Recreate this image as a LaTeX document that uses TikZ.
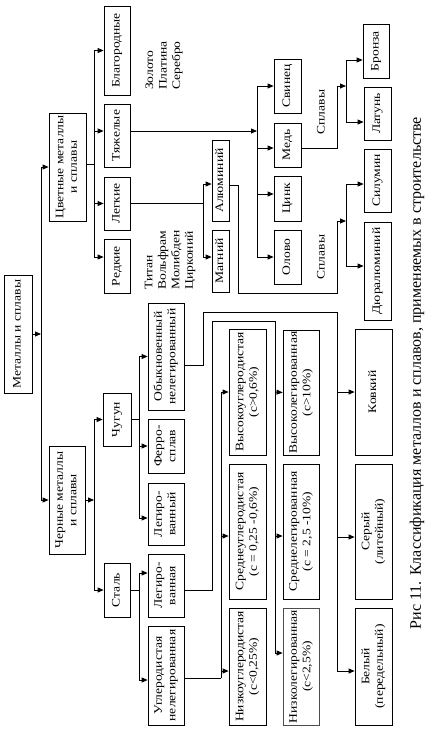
\documentclass[tikz,border=0pt]{standalone}
\usepackage{fontspec}
\usepackage{graphicx}
\setmainfont{Liberation Serif}[FakeStretch=1.18]
\newfontfamily\capfont{Liberation Serif}
\usetikzlibrary{arrows.meta}
\newcommand\R[1]{\rotatebox{90}{\begin{tabular}{@{}c@{}}#1\end{tabular}}}
\newcommand\RL[1]{\rotatebox{90}{\begin{tabular}{@{}l@{}}#1\end{tabular}}}
\begin{document}
\begin{tikzpicture}[x=1pt,y=-1pt,line width=0.8pt,
  font=\fontsize{11.5}{13.5}\selectfont,
  box/.style 2 args={draw, minimum width=#1pt, minimum height=#2pt, inner sep=0pt},
  arr/.style={-{Triangle[length=6pt,width=5pt]}},
  lbl/.style={inner sep=0pt}]
\useasboundingbox (0,0) rectangle (434,732);
% level 0-1
\node[box={28}{118}] (met) at (18,334) {\R{Металлы и сплавы}};
\node[box={37}{108}] (cvet) at (67.5,167) {\R{Цветные металлы\\и сплавы}};
\node[box={36}{108}] (cher) at (67,500) {\R{Черные металлы\\и сплавы}};
% non-ferrous groups
\node[box={26}{89}] (blag) at (117,50.5) {\R{Благородные}};
\node[box={26}{63}] (tyazh) at (117,135.5) {\R{Тяжелые}};
\node[box={26}{53}] (legk) at (117,203.5) {\R{Легкие}};
\node[box={26}{54}] (redk) at (117,266) {\R{Редкие}};
% ferrous groups
\node[box={28}{53}] (chug) at (117,419.5) {\R{Чугун}};
\node[box={26}{54}] (stal) at (117,590) {\R{Сталь}};
\node[box={36}{107}] (obyk) at (166,356.5) {\R{Обыкновенный\\нелегированный}};
\node[box={36}{54}] (ferro) at (166,446) {\R{Ферро-\\сплав}};
\node[box={36}{62}] (legch) at (166,514) {\R{Легиро-\\ванный}};
\node[box={36}{63}] (legst) at (166,585.5) {\R{Легиро-\\ванная}};
\node[box={36}{99}] (uglst) at (166,675.5) {\R{Углеродистая\\нелегированная}};
% metals
\node[box={17}{81}] (alum) at (220.5,180.5) {\R{Алюминий}};
\node[box={17}{62}] (magn) at (220.5,261) {\R{Магний}};
\node[box={27}{54}] (svin) at (287.5,86) {\R{Свинец}};
\node[box={27}{44}] (med) at (287.5,145) {\R{Медь}};
\node[box={27}{45}] (cink) at (287.5,198.5) {\R{Цинк}};
\node[box={27}{54}] (olovo) at (287.5,257) {\R{Олово}};
\node[box={26}{54}] (bronz) at (376,51) {\R{Бронза}};
\node[box={27}{53}] (latun) at (377.5,113.5) {\R{Латунь}};
\node[box={27}{63}] (silum) at (377.5,180.5) {\R{Силумин}};
\node[box={27}{98}] (dural) at (377.5,271) {\R{Дюралюминий}};
% steel / iron subtypes
\node[box={37}{126}] (vysu) at (247.5,392) {\R{Высокоуглеродистая\\(c>0,6\%)}};
\node[box={37}{135}] (sredu) at (247.5,531.5) {\R{Среднеуглеродистая\\(c = 0,25 -0,6\%)}};
\node[box={37}{117}] (nizu) at (247.5,666.5) {\R{Низкоуглеродистая\\(c<0,25\%)}};
\node[box={36}{125}] (vysl) at (301,392.5) {\R{Высоколегированная\\(c>10\%)}};
\node[box={36}{135}] (sredl) at (301,531.5) {\R{Среднелегированная\\(c = 2,5 -10\%)}};
\node[box={36}{117},draw=black!70] (nizl) at (301,666.5) {\R{Низколегированная\\(c<2,5\%)}};
\node[box={37}{126}] (kovk) at (373.5,392) {\R{Ковкий}};
\node[box={37}{135}] (sery) at (373.5,531.5) {\R{Серый\\(литейный)}};
\node[box={37}{117}] (bely) at (373.5,666.5) {\R{Белый\\(передельный)}};
% free labels
\node[lbl] (zol) at (164,65.5) {\RL{Золото\\Платина\\Серебро}};
\node[lbl] (tit) at (170,260) {\RL{Титан\\Вольфрам\\Молибден\\Цирконий}};
\node[lbl] (spl1) at (322,112) {\R{Сплавы}};
\node[lbl] (spl2) at (322,257) {\R{Сплавы}};
\node[lbl,font=\capfont\fontsize{16}{19}\selectfont] (cap) at (417,373) {\R{Рис 11. Классификация металлов и сплавов, применяемых в строительстве}};
% junctions
\coordinate (jA) at (41,334);
\coordinate (jB) at (94,164);
\coordinate (jC) at (94,500);
\coordinate (jD) at (139,419.5);
\coordinate (jE) at (139,590);
\coordinate (jF) at (203,203.5);
\coordinate (jG) at (257,131);
\coordinate (jH) at (346,86);
\coordinate (jI) at (346,221);
\coordinate (jJ) at (337,392);
\coordinate (jK) at (275,392);
\coordinate (jL) at (221,678);
% connectors
\draw[arr] (met.east) -- (jA);
\draw[arr] (jA) |- (cvet.west);
\draw[arr] (jA) |- (cher.west);
\draw (cvet.east |- jB) -- (jB);
\draw[arr] (jB) |- (blag.west);
\draw[arr] (jB) |- (tyazh.west |- 0,131);
\draw[arr] (jB) |- (legk.west);
\draw[arr] (jB) |- (redk.west |- 0,257);
\draw[arr] (cher.east) -- (jC);
\draw[arr] (jC) |- (chug.west);
\draw[arr] (jC) |- (stal.west);
\draw (chug.east) -- (jD);
\draw[arr] (jD) |- (obyk.west);
\draw[arr] (jD) |- (ferro.west);
\draw[arr] (jD) |- (legch.west |- 0,518);
\draw (stal.east) -- (jE);
\draw[arr] (jE) |- (legst.west |- 0,573);
\draw[arr] (jE) |- (uglst.west |- 0,680);
\draw (legk.east) -- (jF);
\draw[arr] (jF) |- (alum.west |- 0,184);
\draw[arr] (jF) |- (magn.west |- 0,257);
\draw[arr] (tyazh.east |- jG) -- (jG);
\draw[arr] (jG) |- (svin.west);
\draw[arr] (jG) |- (med.west |- 0,148);
\draw[arr] (jG) |- (cink.west |- 0,194);
\draw[arr] (jG) |- (olovo.west);
\draw[arr] (med.east |- 0,148) -| (337,86) -- (jH);
\draw[arr] (jH) |- (bronz.west |- 0,60);
\draw[arr] (jH) |- (latun.west |- 0,122);
\draw[arr] (alum.east |- 0,185) -- (238,185) -- (238,293) -- (337,293) -- (337,221) -- (jI);
\draw[arr] (jI) |- (silum.west |- 0,184);
\draw[arr] (jI) |- (dural.west |- 0,266);
\draw (obyk.east |- 0,365) -- (203,365) -- (203,312) -- (337,312) -- (jJ);
\draw[arr] (jJ) -- (kovk.west);
\draw[arr] (jJ) |- (sery.west |- 0,537);
\draw[arr] (jJ) |- (bely.west |- 0,671);
\draw (legst.east |- 0,590) -- (212,590) -- (212,321) -- (275,321) -- (jK);
\draw[arr] (jK) -- (vysl.west);
\draw[arr] (jK) |- (sredl.west |- 0,536);
\draw[arr] (jK) |- (nizl.west |- 0,653);
\draw (uglst.east |- 0,678) -- (jL);
\draw[arr] (jL) |- (vysu.west);
\draw[arr] (jL) |- (sredu.west |- 0,536);
\draw[arr] (jL) |- (nizu.west |- 0,671);
\end{tikzpicture}
\end{document}
